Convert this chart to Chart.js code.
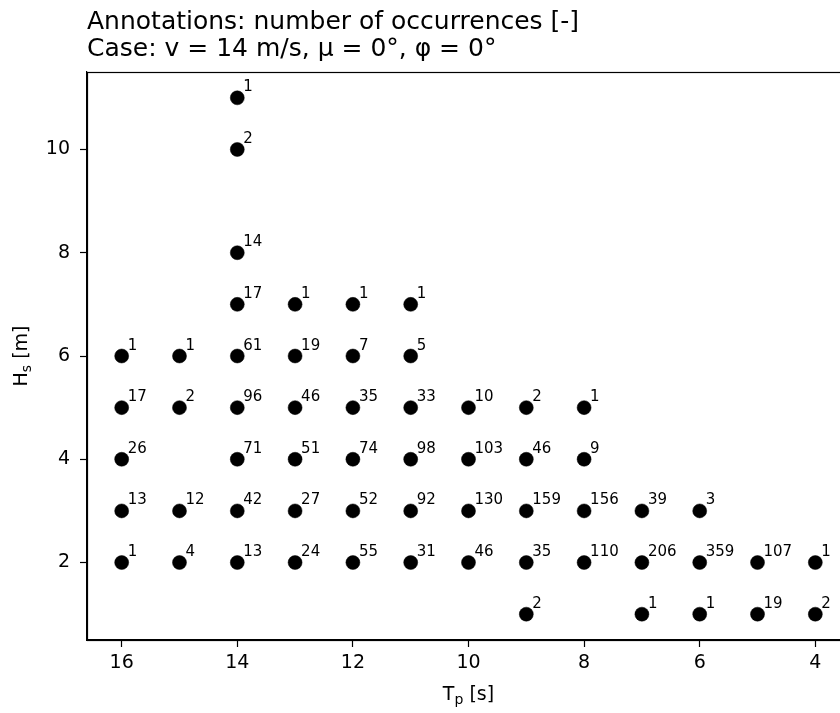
<!DOCTYPE html>
<html>
<head>
<meta charset="utf-8">
<script src="https://cdn.jsdelivr.net/npm/chart.js@4.4.1/dist/chart.umd.min.js"></script>
<style>
  html, body { margin: 0; padding: 0; background: #fff; overflow: hidden; }
  #wrap { width: 860px; height: 713px; }
</style>
</head>
<body>
<div id="wrap"><canvas id="myScatter" width="860" height="713"></canvas></div>
<script>
// peak period Tp [s], significant wave height Hs [m], number of occurrences
const tp = [
    14,
    14,
    14,
    14, 13, 12, 11,
    16, 15, 14, 13, 12, 11,
    16, 15, 14, 13, 12, 11, 10, 9, 8,
    16, 14, 13, 12, 11, 10, 9, 8,
    16, 15, 14, 13, 12, 11, 10, 9, 8, 7, 6,
    16, 15, 14, 13, 12, 11, 10, 9, 8, 7, 6, 5, 4,
    9, 7, 6, 5, 4
];
const hs = [
    11,
    10,
    8,
    7, 7, 7, 7,
    6, 6, 6, 6, 6, 6,
    5, 5, 5, 5, 5, 5, 5, 5, 5,
    4, 4, 4, 4, 4, 4, 4, 4,
    3, 3, 3, 3, 3, 3, 3, 3, 3, 3, 3,
    2, 2, 2, 2, 2, 2, 2, 2, 2, 2, 2, 2, 2,
    1, 1, 1, 1, 1
];
const counts = [
    1,
    2,
    14,
    17, 1, 1, 1,
    1, 1, 61, 19, 7, 5,
    17, 2, 96, 46, 35, 33, 10, 2, 1,
    26, 71, 51, 74, 98, 103, 46, 9,
    13, 12, 42, 27, 52, 92, 130, 159, 156, 39, 3,
    1, 4, 13, 24, 55, 31, 46, 35, 110, 206, 359, 107, 1,
    2, 1, 1, 19, 2
];
const xTicks = [16, 14, 12, 10, 8, 6, 4];
const yTicks = [2, 4, 6, 8, 10];
const titleLines = ['Annotations: number of occurrences [-]', 'Case: v = 14 m/s, \u03bc = 0\u00b0, \u03c6 = 0\u00b0'];
const xTitle = ['T', 'p', ' [s]'];
const yTitle = ['H', 's', ' [m]'];

const points = tp.map((t, i) => ({ x: t, y: hs[i] }));

// label with a subscript, centred on (0, 0) of the current transform
function drawSubLabel(ctx, parts) {
    const big = '19px "DejaVu Sans"', small = '14px "DejaVu Sans"';
    ctx.font = big;
    const w0 = ctx.measureText(parts[0]).width;
    const w2 = ctx.measureText(parts[2]).width;
    ctx.font = small;
    const w1 = ctx.measureText(parts[1]).width;
    let x = -(w0 + w1 + w2) / 2;
    ctx.textAlign = 'left';
    ctx.textBaseline = 'alphabetic';
    ctx.font = big;
    ctx.fillText(parts[0], x, 7);
    x += w0;
    ctx.font = small;
    ctx.fillText(parts[1], x, 11);
    x += w1;
    ctx.font = big;
    ctx.fillText(parts[2], x, 7);
}

// frame, titles and the count next to each dot
const annotate = {
    id: 'annotate',
    afterDatasetsDraw(chart) {
        const ctx = chart.ctx;
        const area = chart.chartArea;
        ctx.save();
        ctx.strokeStyle = '#000';
        ctx.lineWidth = 1.2;
        ctx.strokeRect(area.left + 0.5, area.top + 0.5, area.right - area.left, area.bottom - area.top);

        const meta = chart.getDatasetMeta(0);
        ctx.fillStyle = '#000';
        ctx.font = '15px "DejaVu Sans"';
        ctx.textAlign = 'left';
        ctx.textBaseline = 'alphabetic';
        meta.data.forEach((el, i) => {
            ctx.fillText(String(counts[i]), el.x + 6, el.y - 6.5);
        });

        ctx.font = '25px "DejaVu Sans"';
        ctx.fillText(titleLines[0], area.left, 29);
        ctx.fillText(titleLines[1], area.left, 56);

        ctx.save();
        ctx.translate((area.left + area.right) / 2, 693);
        drawSubLabel(ctx, xTitle);
        ctx.restore();

        ctx.save();
        ctx.translate(20, (area.top + area.bottom) / 2);
        ctx.rotate(-Math.PI / 2);
        drawSubLabel(ctx, yTitle);
        ctx.restore();

        ctx.restore();
    }
};

function createChart() {
    const ctx = document.getElementById('myScatter').getContext('2d');
    new Chart(ctx, {
        type: 'scatter',
        data: {
            datasets: [{
                data: points,
                backgroundColor: '#000',
                borderColor: '#000',
                borderWidth: 0.5,
                pointRadius: 7,
                pointHoverRadius: 7
            }]
        },
        options: {
            responsive: false,
            animation: false,
            layout: { padding: { top: 72, right: 10, left: 0, bottom: 0 } },
            plugins: {
                legend: { display: false },
                tooltip: { enabled: false }
            },
            scales: {
                x: {
                    type: 'linear',
                    reverse: true,
                    min: 3.4,
                    max: 16.6,
                    afterBuildTicks: s => { s.ticks = xTicks.map(v => ({ value: v })); },
                    afterFit: s => { s.height = 73; },
                    grid: { drawOnChartArea: false, drawTicks: true, tickLength: 7, color: '#000', tickWidth: 1.2 },
                    border: { display: true, color: '#000', width: 1.2 },
                    ticks: { color: '#000', font: { family: 'DejaVu Sans', size: 19 }, padding: 5, maxRotation: 0 },
                    title: { display: false }
                },
                y: {
                    type: 'linear',
                    min: 0.5,
                    max: 11.5,
                    afterBuildTicks: s => { s.ticks = yTicks.map(v => ({ value: v })); },
                    afterFit: s => { s.width = 87; },
                    grid: { drawOnChartArea: false, drawTicks: true, tickLength: 7, color: '#000', tickWidth: 1.2 },
                    border: { display: true, color: '#000', width: 1.2 },
                    ticks: { color: '#000', font: { family: 'DejaVu Sans', size: 19 }, padding: 10 },
                    title: { display: false }
                }
            }
        },
        plugins: [annotate]
    });
}

createChart();
</script>
</body>
</html>
